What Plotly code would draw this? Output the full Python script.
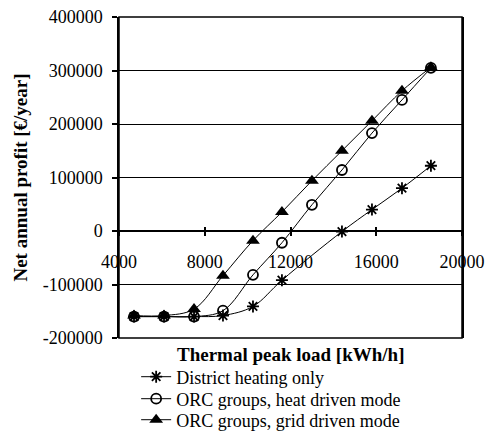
import plotly.graph_objects as go

x_load = [4700, 6100, 7500, 8850, 10250, 11600, 13000, 14400, 15800, 17200, 18550]
district = [-160000, -160000, -160000, -158000, -141000, -92000, None, -1000, 40000, 80000, 122000]
heat = [-160000, -160000, -160000, -149000, -82000, -22000, 49000, 114000, 183000, 245000, 305000]
grid = [-158000, -158000, -146000, -83500, -18000, 35500, 94000, 150000, 206000, 262000, 306000]

# district heating series: the point at 13000 is hidden behind a tick label in the picture
dx = [xv for xv, yv in zip(x_load, district) if yv is not None]
dy = [yv for yv in district if yv is not None]

names = ["District heating only", "ORC groups, heat driven mode", "ORC groups, grid driven mode"]
xticks = [4000, 8000, 12000, 16000, 20000]
yticks = [-200000, -100000, 0, 100000, 200000, 300000, 400000]

FONT = "Liberation Serif"

fig = go.Figure()
fig.add_trace(go.Scatter(x=dx, y=dy, name=names[0], mode="lines+markers", legend="legend",
                         line=dict(color="black", width=1, shape="spline"),
                         marker=dict(symbol="asterisk-open", size=10, color="black",
                                     line=dict(width=1.8, color="black"))))
fig.add_trace(go.Scatter(x=x_load, y=heat, name=names[1], mode="lines+markers", legend="legend2",
                         line=dict(color="black", width=1, shape="spline"),
                         marker=dict(symbol="circle-open", size=10, color="black",
                                     line=dict(width=1.8, color="black"))))
fig.add_trace(go.Scatter(x=x_load, y=grid, name=names[2], mode="lines+markers", legend="legend3",
                         line=dict(color="black", width=1, shape="spline"),
                         marker=dict(symbol="triangle-up", size=12, color="black")))
# helper trace for the crossing tick marks axis
fig.add_trace(go.Scatter(x=[xticks[0]], y=[0], xaxis="x2", mode="markers",
                         marker=dict(opacity=0), showlegend=False, hoverinfo="skip"))

leg_common = dict(x=0.05, xanchor="left", yanchor="middle",
                  font=dict(family=FONT, size=18, color="black"),
                  bgcolor="rgba(0,0,0,0)", itemwidth=30)

fig.update_layout(
    width=486, height=432,
    margin=dict(l=119, r=24, t=17, b=94, autoexpand=False),
    paper_bgcolor="white", plot_bgcolor="white",
    font=dict(family=FONT, size=18, color="black"),
    showlegend=True,
    legend=dict(y=-0.1215, **leg_common),
    legend2=dict(y=-0.190, **leg_common),
    legend3=dict(y=-0.2555, **leg_common),
    xaxis=dict(range=[4000, 20000], tickvals=xticks, ticktext=[str(v) for v in xticks],
               anchor="free", position=1/3, showgrid=False, zeroline=False,
               showline=True, linecolor="black", linewidth=1.5,
               ticks="outside", ticklen=4, tickwidth=1.5, tickcolor="black",
               ticklabelstandoff=11,
               tickfont=dict(family=FONT, size=18, color="black")),
    xaxis2=dict(range=[4000, 20000], tickvals=xticks, overlaying="x",
                anchor="free", position=1/3, showgrid=False, zeroline=False,
                showline=False, ticks="inside", ticklen=4, tickwidth=1.5,
                tickcolor="black", showticklabels=False),
    yaxis=dict(range=[-200000, 400000], tickvals=yticks, ticktext=[str(v) for v in yticks],
               showgrid=True, gridcolor="black", gridwidth=1, zeroline=False,
               showline=True, linecolor="black", linewidth=1.5, mirror=True,
               ticks="outside", ticklen=5, tickwidth=1.5, tickcolor="black",
               ticklabelstandoff=6,
               tickfont=dict(family=FONT, size=18, color="black"),
               title=dict(text="<b>Net annual profit [€/year]</b>", standoff=10,
                          font=dict(family=FONT, size=19, color="black"))),
    shapes=[dict(type="rect", xref="paper", yref="paper", x0=0, x1=1, y0=0, y1=1,
                 line=dict(color="black", width=1.5))],
    annotations=[dict(text="<b>Thermal peak load [kWh/h]</b>", xref="paper", yref="paper",
                      x=0.5, y=-0.012, xanchor="center", yanchor="top", showarrow=False,
                      font=dict(family=FONT, size=19, color="black"))],
)

fig.write_html("out.html")
